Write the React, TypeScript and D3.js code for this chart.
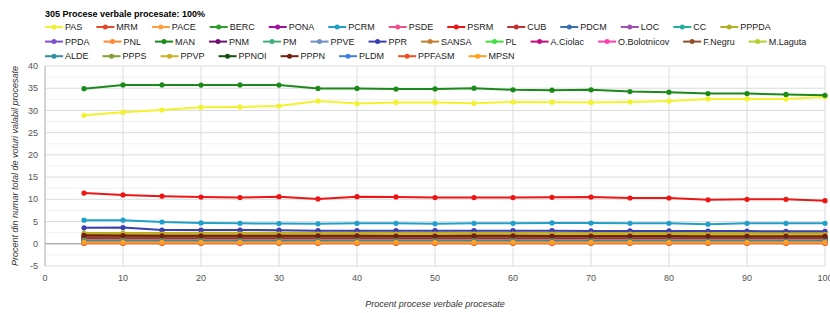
import * as d3 from 'd3';
import React, { useEffect, useRef } from 'react';

// percent of processed reports (x axis)
const steps = [5, 10, 15, 20, 25, 30, 35, 40, 45, 50, 55, 60, 65, 70, 75, 80, 85, 90, 95, 100];

const PAS = [28.9, 29.6, 30.1, 30.7, 30.8, 31.0, 32.1, 31.55, 31.8, 31.8, 31.6, 31.9, 31.85, 31.8, 31.9, 32.1, 32.6, 32.6, 32.6, 33.0];
const MRM = [0.2, 0.2, 0.2, 0.2, 0.2, 0.2, 0.2, 0.2, 0.2, 0.2, 0.2, 0.2, 0.2, 0.2, 0.2, 0.2, 0.2, 0.2, 0.2, 0.2];
const PACE = [0.3, 0.3, 0.3, 0.3, 0.3, 0.3, 0.3, 0.3, 0.3, 0.3, 0.3, 0.3, 0.3, 0.3, 0.3, 0.3, 0.3, 0.3, 0.3, 0.3];
const BERC = [0.4, 0.4, 0.4, 0.4, 0.4, 0.4, 0.4, 0.4, 0.4, 0.4, 0.4, 0.4, 0.4, 0.4, 0.4, 0.4, 0.4, 0.4, 0.4, 0.4];
const PONA = [1.3, 1.3, 1.25, 1.25, 1.25, 1.25, 1.25, 1.25, 1.25, 1.25, 1.25, 1.25, 1.25, 1.25, 1.25, 1.25, 1.25, 1.25, 1.25, 1.25];
const PCRM = [5.3, 5.3, 4.9, 4.7, 4.6, 4.55, 4.5, 4.6, 4.6, 4.5, 4.6, 4.6, 4.7, 4.65, 4.6, 4.6, 4.4, 4.6, 4.6, 4.6];
const PSDE = [0.35, 0.35, 0.35, 0.35, 0.35, 0.35, 0.35, 0.35, 0.35, 0.35, 0.35, 0.35, 0.35, 0.35, 0.35, 0.35, 0.35, 0.35, 0.35, 0.35];
const PSRM = [11.4, 11.0, 10.7, 10.5, 10.4, 10.6, 10.1, 10.6, 10.55, 10.4, 10.4, 10.4, 10.45, 10.5, 10.3, 10.3, 9.9, 10.0, 10.0, 9.7];
const CUB = [1.45, 1.4, 1.4, 1.4, 1.4, 1.4, 1.4, 1.4, 1.4, 1.4, 1.4, 1.4, 1.4, 1.4, 1.4, 1.4, 1.4, 1.4, 1.4, 1.4];
const PDCM = [1.0, 1.0, 1.0, 1.0, 1.0, 1.0, 1.0, 1.0, 1.0, 1.0, 1.0, 1.0, 1.0, 1.0, 1.0, 1.0, 1.0, 1.0, 1.0, 1.0];
const LOC = [1.15, 1.15, 1.15, 1.15, 1.15, 1.15, 1.15, 1.15, 1.15, 1.15, 1.15, 1.15, 1.15, 1.15, 1.15, 1.15, 1.15, 1.15, 1.15, 1.15];
const CC = [0.3, 0.3, 0.3, 0.3, 0.3, 0.3, 0.3, 0.3, 0.3, 0.3, 0.3, 0.3, 0.3, 0.3, 0.3, 0.3, 0.3, 0.3, 0.3, 0.3];
const PPPDA = [2.4, 2.4, 2.45, 2.5, 2.5, 2.5, 2.5, 2.55, 2.5, 2.5, 2.5, 2.5, 2.5, 2.45, 2.45, 2.45, 2.4, 2.4, 2.4, 2.4];
const PPDA = [0.9, 0.9, 0.9, 0.9, 0.9, 0.9, 0.9, 0.9, 0.9, 0.9, 0.9, 0.9, 0.9, 0.9, 0.9, 0.9, 0.9, 0.9, 0.9, 0.9];
const PNL = [0.2, 0.2, 0.2, 0.2, 0.2, 0.2, 0.2, 0.2, 0.2, 0.2, 0.2, 0.2, 0.2, 0.2, 0.2, 0.2, 0.2, 0.2, 0.2, 0.2];
const MAN = [34.9, 35.75, 35.75, 35.7, 35.75, 35.7, 34.95, 34.95, 34.8, 34.85, 35.0, 34.65, 34.55, 34.65, 34.25, 34.1, 33.8, 33.8, 33.6, 33.4];
const PNM = [1.05, 1.05, 1.05, 1.05, 1.05, 1.05, 1.05, 1.05, 1.05, 1.05, 1.05, 1.05, 1.05, 1.05, 1.05, 1.05, 1.05, 1.05, 1.05, 1.05];
const PM = [0.65, 0.65, 0.65, 0.65, 0.65, 0.65, 0.65, 0.65, 0.65, 0.65, 0.65, 0.65, 0.65, 0.65, 0.65, 0.65, 0.65, 0.65, 0.65, 0.65];
const PPVE = [0.4, 0.4, 0.4, 0.4, 0.4, 0.4, 0.4, 0.4, 0.4, 0.4, 0.4, 0.4, 0.4, 0.4, 0.4, 0.4, 0.4, 0.4, 0.4, 0.4];
const PPR = [3.6, 3.65, 3.1, 3.1, 3.1, 3.05, 2.95, 2.95, 2.95, 2.95, 2.95, 2.95, 2.95, 2.9, 2.9, 2.9, 2.85, 2.85, 2.8, 2.8];
const SANSA = [0.6, 0.6, 0.6, 0.6, 0.6, 0.6, 0.6, 0.6, 0.6, 0.6, 0.6, 0.6, 0.6, 0.6, 0.6, 0.6, 0.6, 0.6, 0.6, 0.6];
const PL = [0.3, 0.3, 0.3, 0.3, 0.3, 0.3, 0.3, 0.3, 0.3, 0.3, 0.3, 0.3, 0.3, 0.3, 0.3, 0.3, 0.3, 0.3, 0.3, 0.3];
const ACiolac = [1.3, 1.3, 1.3, 1.3, 1.3, 1.3, 1.3, 1.3, 1.3, 1.3, 1.3, 1.3, 1.3, 1.3, 1.3, 1.3, 1.3, 1.3, 1.3, 1.3];
const OBolotnicov = [0.15, 0.15, 0.15, 0.15, 0.15, 0.15, 0.15, 0.15, 0.15, 0.15, 0.15, 0.15, 0.15, 0.15, 0.15, 0.15, 0.15, 0.15, 0.15, 0.15];
const FNegru = [1.6, 1.55, 1.55, 1.55, 1.55, 1.55, 1.55, 1.55, 1.55, 1.55, 1.55, 1.55, 1.55, 1.55, 1.55, 1.55, 1.55, 1.55, 1.55, 1.55];
const MLaguta = [0.55, 0.55, 0.55, 0.55, 0.55, 0.55, 0.55, 0.55, 0.55, 0.55, 0.55, 0.55, 0.55, 0.55, 0.55, 0.55, 0.55, 0.55, 0.55, 0.55];
const ALDE = [0.75, 0.75, 0.75, 0.75, 0.75, 0.75, 0.75, 0.75, 0.75, 0.75, 0.75, 0.75, 0.75, 0.75, 0.75, 0.75, 0.75, 0.75, 0.75, 0.75];
const PPPS = [0.85, 0.85, 0.85, 0.85, 0.85, 0.85, 0.85, 0.85, 0.85, 0.85, 0.85, 0.85, 0.85, 0.85, 0.85, 0.85, 0.85, 0.85, 0.85, 0.85];
const PPVP = [2.1, 2.1, 2.15, 2.15, 2.2, 2.2, 2.2, 2.2, 2.2, 2.2, 2.2, 2.15, 2.15, 2.15, 2.15, 2.1, 2.1, 2.1, 2.1, 2.1];
const PPNOI = [0.45, 0.45, 0.45, 0.45, 0.45, 0.45, 0.45, 0.45, 0.45, 0.45, 0.45, 0.45, 0.45, 0.45, 0.45, 0.45, 0.45, 0.45, 0.45, 0.45];
const PPPN = [1.9, 1.85, 1.8, 1.8, 1.8, 1.8, 1.8, 1.8, 1.75, 1.75, 1.8, 1.8, 1.75, 1.75, 1.75, 1.75, 1.7, 1.7, 1.7, 1.7];
const PLDM = [0.5, 0.5, 0.5, 0.5, 0.5, 0.5, 0.5, 0.5, 0.5, 0.5, 0.5, 0.5, 0.5, 0.5, 0.5, 0.5, 0.5, 0.5, 0.5, 0.5];
const PPFASM = [0.1, 0.1, 0.1, 0.1, 0.1, 0.1, 0.1, 0.1, 0.1, 0.1, 0.1, 0.1, 0.1, 0.1, 0.1, 0.1, 0.1, 0.1, 0.1, 0.1];
const MPSN = [0.3, 0.3, 0.3, 0.3, 0.3, 0.3, 0.3, 0.3, 0.3, 0.3, 0.3, 0.3, 0.3, 0.3, 0.3, 0.3, 0.3, 0.3, 0.3, 0.3];

const seriesNames = [
  'PAS', 'MRM', 'PACE', 'BERC', 'PONA', 'PCRM', 'PSDE', 'PSRM', 'CUB', 'PDCM', 'LOC', 'CC', 'PPPDA',
  'PPDA', 'PNL', 'MAN', 'PNM', 'PM', 'PPVE', 'PPR', 'SANSA', 'PL', 'A.Ciolac', 'O.Bolotnicov', 'F.Negru', 'M.Laguta',
  'ALDE', 'PPPS', 'PPVP', 'PPNOI', 'PPPN', 'PLDM', 'PPFASM', 'MPSN',
];
const seriesValues = [
  PAS, MRM, PACE, BERC, PONA, PCRM, PSDE, PSRM, CUB, PDCM, LOC, CC, PPPDA,
  PPDA, PNL, MAN, PNM, PM, PPVE, PPR, SANSA, PL, ACiolac, OBolotnicov, FNegru, MLaguta,
  ALDE, PPPS, PPVP, PPNOI, PPPN, PLDM, PPFASM, MPSN,
];
const seriesColors = [
  '#f2f230', '#e04a2a', '#ffa040', '#2aa02a', '#a010a0', '#20a0c8', '#f05090', '#ee1515', '#c03030', '#3a70b0', '#a050b0', '#20b0a0', '#b0b020',
  '#8050d0', '#ff8830', '#1a8a1a', '#701070', '#40b080', '#7090c0', '#3a40b0', '#c08030', '#40e040', '#c01080', '#ff40b0', '#905030', '#b0d030',
  '#3090a0', '#80a030', '#d0b020', '#105010', '#702010', '#4080e0', '#f05020', '#ffa020',
];
// legend rows begin at these entries
const legendRowStarts = ['PPDA', 'ALDE'];

const yTicks = [-5, 0, 5, 10, 15, 20, 25, 30, 35, 40];
const xTicks = [0, 10, 20, 30, 40, 50, 60, 70, 80, 90, 100];

const FONT = "Arial, 'Liberation Sans', sans-serif";

const App: React.FC = () => {
  const ref = useRef<SVGSVGElement | null>(null);

  useEffect(() => {
    if (!ref.current) return;
    const svg = d3.select(ref.current);
    svg.selectAll('*').remove();

    const margin = { top: 66, right: 5, bottom: 47, left: 45 };
    const width = 830 - margin.left - margin.right;
    const height = 313 - margin.top - margin.bottom;

    const x = d3.scaleLinear().domain([0, 100]).range([0, width]);
    const y = d3.scaleLinear().domain([-5, 40]).range([height, 0]);

    svg
      .append('text')
      .attr('x', margin.left)
      .attr('y', 16.5)
      .attr('font-family', FONT)
      .attr('font-size', 9)
      .attr('font-weight', 'bold')
      .attr('fill', '#000')
      .text('305 Procese verbale procesate: 100%');

    // Legend
    const legend = svg.append('g').attr('font-family', FONT).attr('font-size', 9);
    let lx = margin.left;
    let row = 0;
    seriesNames.forEach((name, i) => {
      if (legendRowStarts.includes(name)) {
        row += 1;
        lx = margin.left;
      }
      const item = legend.append('g');
      item
        .append('line')
        .attr('x1', 0)
        .attr('x2', 18)
        .attr('stroke', seriesColors[i])
        .attr('stroke-width', 2);
      item.append('circle').attr('cx', 9).attr('r', 2.5).attr('fill', seriesColors[i]);
      const label = item
        .append('text')
        .attr('x', 20)
        .attr('dy', '0.35em')
        .attr('fill', '#222')
        .text(name);
      const tw = (label.node() as SVGTextElement).getComputedTextLength();
      item.attr('transform', `translate(${lx},${27 + row * 14.6})`);
      lx += 20 + tw + 14;
    });

    const g = svg.append('g').attr('transform', `translate(${margin.left},${margin.top})`);

    // minor grid
    const minor = d3.range(-2.5, 40, 5);
    g.selectAll('.minor')
      .data(minor)
      .enter()
      .append('line')
      .attr('x1', 0)
      .attr('x2', width)
      .attr('y1', (d) => y(d))
      .attr('y2', (d) => y(d))
      .attr('stroke', '#f0f0f0');

    g.selectAll('.hgrid')
      .data(yTicks)
      .enter()
      .append('line')
      .attr('x1', 0)
      .attr('x2', width)
      .attr('y1', (d) => y(d))
      .attr('y2', (d) => y(d))
      .attr('stroke', '#dcdcdc');

    g.selectAll('.vgrid')
      .data(xTicks)
      .enter()
      .append('line')
      .attr('x1', (d) => x(d))
      .attr('x2', (d) => x(d))
      .attr('y1', 0)
      .attr('y2', height)
      .attr('stroke', '#dcdcdc');

    g.append('line')
      .attr('x1', 0)
      .attr('x2', width)
      .attr('y1', y(0))
      .attr('y2', y(0))
      .attr('stroke', '#999');

    g.append('line')
      .attr('x1', 0)
      .attr('x2', 0)
      .attr('y1', 0)
      .attr('y2', height)
      .attr('stroke', '#bbb');

    // tick labels
    g.selectAll('.ylab')
      .data(yTicks)
      .enter()
      .append('text')
      .attr('x', -7)
      .attr('y', (d) => y(d))
      .attr('dy', '0.35em')
      .attr('text-anchor', 'end')
      .attr('font-family', FONT)
      .attr('font-size', 9)
      .attr('fill', '#555')
      .text((d) => d);

    g.selectAll('.xlab')
      .data(xTicks)
      .enter()
      .append('text')
      .attr('x', (d) => x(d))
      .attr('y', height + 12)
      .attr('dy', '0.35em')
      .attr('text-anchor', 'middle')
      .attr('font-family', FONT)
      .attr('font-size', 9)
      .attr('fill', '#555')
      .text((d) => d);

    // axis titles
    svg
      .append('text')
      .attr('x', margin.left + width / 2)
      .attr('y', 304)
      .attr('dy', '0.35em')
      .attr('text-anchor', 'middle')
      .attr('font-family', FONT)
      .attr('font-size', 9)
      .attr('font-style', 'italic')
      .attr('fill', '#333')
      .text('Procent procese verbale procesate');

    svg
      .append('text')
      .attr('transform', `translate(15,${margin.top + height / 2}) rotate(-90)`)
      .attr('dy', '0.35em')
      .attr('text-anchor', 'middle')
      .attr('font-family', FONT)
      .attr('font-size', 9)
      .attr('font-style', 'italic')
      .attr('fill', '#333')
      .text('Procent din numar total de voturi valabil procesate');

    const line = d3
      .line<number>()
      .x((_, i) => x(steps[i]))
      .y((d) => y(d));

    seriesValues.forEach((vals, i) => {
      const s = g.append('g');
      s.append('path')
        .datum(vals)
        .attr('fill', 'none')
        .attr('stroke', seriesColors[i])
        .attr('stroke-width', 2)
        .attr('d', line);
      s.selectAll('circle')
        .data(vals)
        .enter()
        .append('circle')
        .attr('cx', (_, j) => x(steps[j]))
        .attr('cy', (d) => y(d))
        .attr('r', 2.6)
        .attr('fill', seriesColors[i]);
    });
  }, []);

  return (
    <div style={{ position: 'absolute', left: 0, top: 0 }}>
      <svg ref={ref} width={830} height={313} style={{ display: 'block', background: '#fff' }} />
    </div>
  );
};

export default App;
